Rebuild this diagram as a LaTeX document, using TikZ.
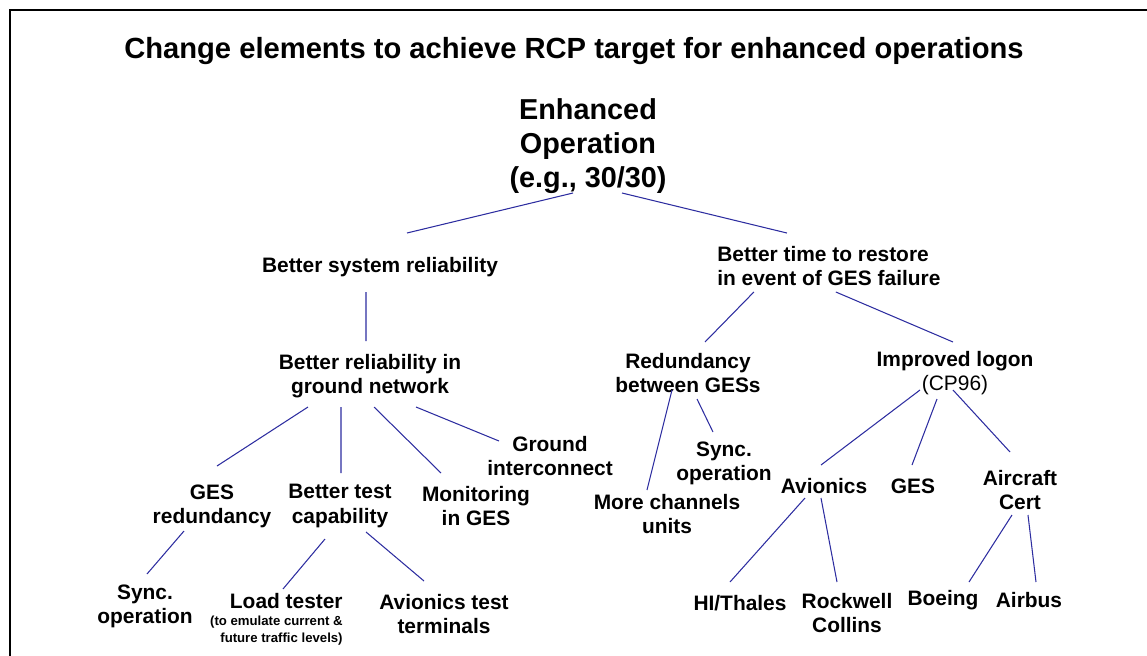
\documentclass[tikz,border=0pt]{standalone}
\usepackage{fontspec}
\setmainfont{Liberation Sans}
\usetikzlibrary{calc}
\definecolor{linkblue}{RGB}{45,45,160}
\newcommand{\notesize}{\fontsize{7.5}{9}\selectfont}
\tikzset{
  lbl/.style={font=\bfseries\fontsize{11.9}{13.8}\selectfont, align=center, inner sep=0pt},
  big/.style={font=\bfseries\fontsize{16.4}{19.3}\selectfont, align=center, inner sep=0pt},
  link/.style={linkblue, line width=0.6pt}
}
\begin{document}
\begin{tikzpicture}[x=0.02cm, y=-0.02cm]
            \useasboundingbox (0,0) rectangle (1147,656);
            \draw[line width=1.1pt] (10,656) -- (10,10) -- (1147,10);
            \node[big, font=\bfseries\fontsize{16.6}{19}\selectfont] (title) at (574,51) {Change elements to achieve RCP target for enhanced operations};
            \node[big] (root) at (588,146) {Enhanced\\Operation\\(e.g., 30/30)};
            \node[lbl] (sysrel) at (380,267) {Better system reliability};
            \node[lbl] (gnd) at (370,376) {Better reliability in\\ground network};
            \node[lbl] (gesred) at (212,506) {GES\\redundancy};
            \node[lbl] (test) at (340,506) {Better test\\capability};
            \node[lbl] (mon) at (476,506) {Monitoring\\in GES};
            \node[lbl] (gic) at (550,456) {Ground\\interconnect};
            \node[lbl] (syncA) at (145,606) {Sync.\\operation};
            \node[lbl, align=right, anchor=north east] (load) at (343,593) {Load tester\\[-4pt]\notesize(to emulate current \&\\[-4.5pt]\notesize future traffic levels)};
            \node[lbl] (avt) at (444,614) {Avionics test\\terminals};
            \node[lbl, align=left, anchor=west] (restore) at (717,266) {Better time to restore\\in event of GES failure};
            \node[lbl] (red) at (688,373) {Redundancy\\between GESs};
            \node[lbl] (logon) at (955,373) {Improved logon\\\mdseries(CP96)};
            \node[lbl] (syncB) at (724,463) {Sync.\\operation};
            \node[lbl] (more) at (667,514) {More channels\\units};
            \node[lbl] (avio) at (824,486) {Avionics};
            \node[lbl] (gesn) at (913,486) {GES};
            \node[lbl] (cert) at (1020,490) {Aircraft\\Cert};
            \node[lbl] (thales) at (740,603) {HI/Thales};
            \node[lbl] (rock) at (847,613) {Rockwell\\Collins};
            \node[lbl] (boeing) at (943,600) {Boeing};
            \node[lbl] (airbus) at (1029,600) {Airbus};
            % tree links
            \draw[link] ($(root)+(-15,47)$) -- ($(sysrel)+(27,-34)$)
                  ($(root)+(34,47)$) -- ($(restore)+(-42,-33)$)
                  ($(sysrel)+(-14,25)$) -- ($(gnd)+(-4,-35)$)
                  ($(gnd)+(-62,31)$) -- ($(gesred)+(5,-40)$)
                  ($(gnd)+(-29,31)$) -- ($(test)+(1,-33)$)
                  ($(gnd)+(4,31)$) -- ($(mon)+(-35,-33)$)
                  ($(gnd)+(46,31)$) -- ($(gic)+(-51,-15)$)
                  ($(gesred)+(-28,25)$) -- ($(syncA)+(2,-32)$)
                  ($(test)+(-15,33)$) -- ($(load.north east)+(-60,-4)$)
                  ($(test)+(26,26)$) -- ($(avt)+(-20,-33)$)
                  ($(restore)+(-75,26)$) -- ($(red)+(17,-31)$)
                  ($(restore)+(7,26)$) -- ($(logon)+(-2,-31)$)
                  ($(red)+(-16,17)$) -- ($(more)+(-20,-24)$)
                  ($(red)+(9,26)$) -- ($(syncB)+(-11,-31)$)
                  ($(logon)+(-35,17)$) -- ($(avio)+(-3,-21)$)
                  ($(logon)+(-18,26)$) -- ($(gesn)+(-1,-21)$)
                  ($(logon)+(-2,17)$) -- ($(cert)+(-10,-38)$)
                  ($(avio)+(-19,12)$) -- ($(thales)+(-10,-21)$)
                  ($(avio)+(-3,12)$) -- ($(rock)+(-10,-31)$)
                  ($(cert)+(-8,25)$) -- ($(boeing)+(26,-18)$)
                  ($(cert)+(8,25)$) -- ($(airbus)+(7,-18)$);
\end{tikzpicture}
\end{document}
